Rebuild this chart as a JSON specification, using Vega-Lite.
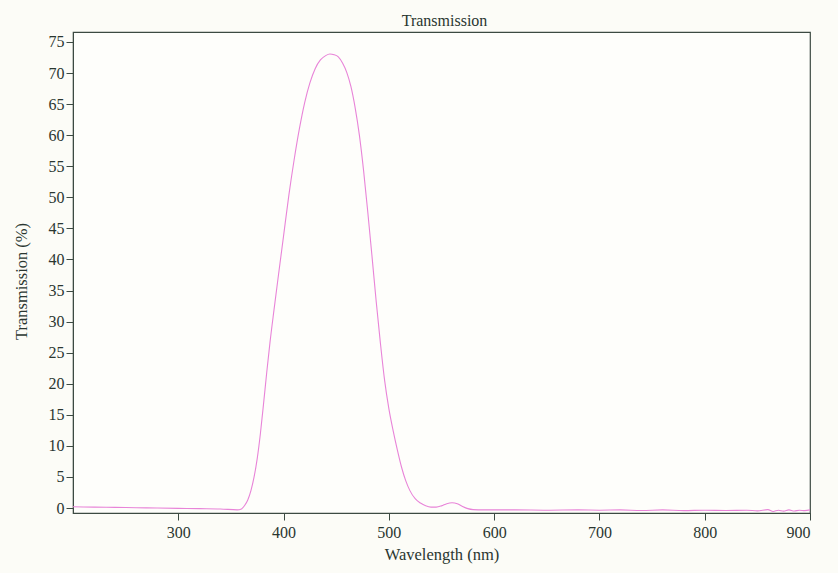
{
  "$schema": "https://vega.github.io/schema/vega-lite/v6.json",
  "autosize": "none",
  "width": 737,
  "height": 481,
  "padding": {"left": 73, "top": 32, "right": 28, "bottom": 60},
  "background": "#fcfcf7",
  "title": {"text": "Transmission", "font": "Liberation Serif", "fontSize": 16, "fontWeight": "normal", "color": "#2a3630", "offset": 3, "dx": 3},
  "config": {
    "view": {"stroke": "#3c4a42", "strokeWidth": 1.2, "fill": "#fefefb"},
    "axis": {"labelFont": "Liberation Serif", "titleFont": "Liberation Serif", "labelFontSize": 16, "titleFontSize": 16.5, "titleFontWeight": "normal", "labelColor": "#2a3630", "titleColor": "#2a3630", "tickColor": "#3c4a42", "domainColor": "#3c4a42", "grid": false}
  },
  "data": {"values": [
    {"w": 200, "t": 0.2}, {"w": 220, "t": 0.15}, {"w": 240, "t": 0.1}, {"w": 260, "t": 0.05},
    {"w": 280, "t": 0.0}, {"w": 300, "t": -0.05}, {"w": 320, "t": -0.1}, {"w": 340, "t": -0.15},
    {"w": 356, "t": -0.3}, {"w": 360, "t": -0.15}, {"w": 363, "t": 0.4}, {"w": 366, "t": 1.3},
    {"w": 369, "t": 2.8}, {"w": 372, "t": 5.0}, {"w": 375, "t": 8.0}, {"w": 378, "t": 12.0},
    {"w": 381, "t": 16.8}, {"w": 384, "t": 21.8}, {"w": 387, "t": 26.5}, {"w": 391, "t": 32.0},
    {"w": 395, "t": 37.3}, {"w": 400, "t": 43.8}, {"w": 405, "t": 50.3}, {"w": 410, "t": 56.0},
    {"w": 415, "t": 61.0}, {"w": 420, "t": 65.2}, {"w": 425, "t": 68.4}, {"w": 430, "t": 70.7},
    {"w": 435, "t": 72.1}, {"w": 440, "t": 72.8}, {"w": 444, "t": 73.05}, {"w": 448, "t": 72.95},
    {"w": 452, "t": 72.6}, {"w": 456, "t": 71.6}, {"w": 460, "t": 70.1}, {"w": 464, "t": 67.8},
    {"w": 468, "t": 64.4}, {"w": 472, "t": 60.0}, {"w": 476, "t": 54.3}, {"w": 480, "t": 47.6},
    {"w": 484, "t": 40.5}, {"w": 488, "t": 33.2}, {"w": 492, "t": 26.5}, {"w": 496, "t": 20.5},
    {"w": 500, "t": 16.0}, {"w": 504, "t": 12.5}, {"w": 508, "t": 9.4}, {"w": 512, "t": 6.6},
    {"w": 516, "t": 4.4}, {"w": 520, "t": 2.8}, {"w": 525, "t": 1.5}, {"w": 530, "t": 0.8},
    {"w": 535, "t": 0.35}, {"w": 540, "t": 0.15}, {"w": 545, "t": 0.15}, {"w": 550, "t": 0.35},
    {"w": 555, "t": 0.7}, {"w": 560, "t": 0.85}, {"w": 565, "t": 0.7}, {"w": 570, "t": 0.25},
    {"w": 575, "t": -0.1}, {"w": 580, "t": -0.25}, {"w": 590, "t": -0.3}, {"w": 600, "t": -0.3},
    {"w": 620, "t": -0.3}, {"w": 650, "t": -0.35}, {"w": 680, "t": -0.3}, {"w": 700, "t": -0.35},
    {"w": 720, "t": -0.3}, {"w": 740, "t": -0.4}, {"w": 760, "t": -0.3}, {"w": 780, "t": -0.42},
    {"w": 800, "t": -0.35}, {"w": 820, "t": -0.4}, {"w": 840, "t": -0.35}, {"w": 850, "t": -0.45},
    {"w": 860, "t": -0.25}, {"w": 865, "t": -0.55}, {"w": 870, "t": -0.35}, {"w": 875, "t": -0.5},
    {"w": 880, "t": -0.3}, {"w": 885, "t": -0.48}, {"w": 890, "t": -0.35}, {"w": 895, "t": -0.42},
    {"w": 900, "t": -0.3}
  ]},
  "mark": {"type": "line", "color": "#e884d8", "strokeWidth": 1.1, "interpolate": "monotone"},
  "encoding": {
    "x": {"field": "w", "type": "quantitative", "title": "Wavelength (nm)",
      "scale": {"domain": [200, 900], "nice": false, "zero": false},
      "axis": {"values": [300, 400, 500, 600, 700, 800, 900], "tickSize": 7, "labelPadding": 4, "titlePadding": 6}},
    "y": {"field": "t", "type": "quantitative", "title": "Transmission (%)",
      "scale": {"domain": [-0.8, 76.6], "nice": false, "zero": false},
      "axis": {"values": [0, 5, 10, 15, 20, 25, 30, 35, 40, 45, 50, 55, 60, 65, 70, 75], "tickSize": 7, "labelPadding": 2, "titlePadding": 19, "titleY": 249}}
  }
}
